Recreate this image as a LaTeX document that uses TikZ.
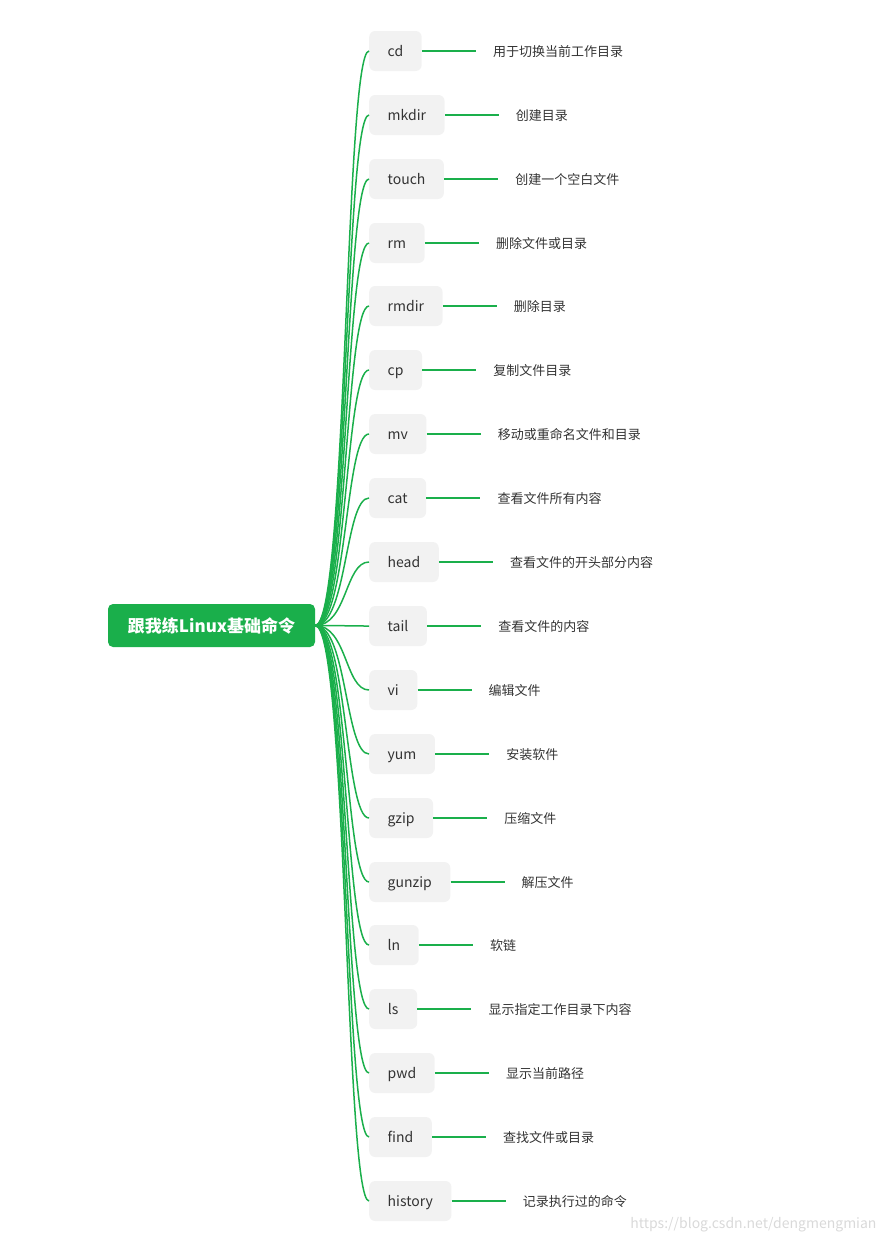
\documentclass[tikz,border=0pt]{standalone}
\usepackage{fontspec}
\setmainfont{Noto Sans CJK SC}
\usepackage{xcolor}
\usepackage{tikz}
\usetikzlibrary{positioning}

\definecolor{mapgreen}{HTML}{1AAF4B}
\definecolor{boxgray}{HTML}{F2F2F2}
\definecolor{inkgray}{HTML}{333333}

\begin{document}
\begin{tikzpicture}[
            x=1pt, y=-1pt,
            root/.style={rectangle, rounded corners=5pt, fill=mapgreen, text=white, font=\fontsize{17}{20}\selectfont\bfseries, minimum width=207pt, minimum height=43pt},
            cmd/.style={rectangle, rounded corners=6pt, fill=boxgray, text=inkgray, anchor=west, font=\fontsize{14}{16}\selectfont, inner xsep=18.5pt, text height=13pt, text depth=1.5pt, minimum width=48pt, minimum height=40pt},
            desc/.style={anchor=west, inner sep=0pt, text=inkgray, text height=12.5pt, text depth=1pt, font=\fontsize{13}{15}\selectfont},
            branch/.style={draw=mapgreen, line width=1.5pt},
            leaf/.style={draw=mapgreen, line width=1.5pt, shorten >=17pt}
        ]

        \useasboundingbox (0,0) rectangle (889,1243);

        \node[root] (linux) at (211.5,625.5) {跟我练Linux基础命令};

        % command boxes
        \node[cmd] (cd) at (369,51) {cd};
        \node[cmd] (mkdir) at (369,115) {mkdir};
        \node[cmd] (touch) at (369,179) {touch};
        \node[cmd] (rm) at (369,243) {rm};
        \node[cmd] (rmdir) at (369,306) {rmdir};
        \node[cmd] (cp) at (369,370) {cp};
        \node[cmd] (mv) at (369,434) {mv};
        \node[cmd] (cat) at (369,498) {cat};
        \node[cmd] (head) at (369,562) {head};
        \node[cmd] (tail) at (369,626) {tail};
        \node[cmd] (vi) at (369,690) {vi};
        \node[cmd] (yum) at (369,754) {yum};
        \node[cmd] (gzip) at (369,818) {gzip};
        \node[cmd] (gunzip) at (369,882) {gunzip};
        \node[cmd] (ln) at (369,945) {ln};
        \node[cmd] (ls) at (369,1009) {ls};
        \node[cmd] (pwd) at (369,1073) {pwd};
        \node[cmd] (find) at (369,1137) {find};
        \node[cmd] (history) at (369,1201) {history};

        % descriptions
        \node[desc] (cd-txt) [right=71pt of cd] {用于切换当前工作目录};
        \node[desc] (mkdir-txt) [right=71pt of mkdir] {创建目录};
        \node[desc] (touch-txt) [right=71pt of touch] {创建一个空白文件};
        \node[desc] (rm-txt) [right=71pt of rm] {删除文件或目录};
        \node[desc] (rmdir-txt) [right=71pt of rmdir] {删除目录};
        \node[desc] (cp-txt) [right=71pt of cp] {复制文件目录};
        \node[desc] (mv-txt) [right=71pt of mv] {移动或重命名文件和目录};
        \node[desc] (cat-txt) [right=71pt of cat] {查看文件所有内容};
        \node[desc] (head-txt) [right=71pt of head] {查看文件的开头部分内容};
        \node[desc] (tail-txt) [right=71pt of tail] {查看文件的内容};
        \node[desc] (vi-txt) [right=71pt of vi] {编辑文件};
        \node[desc] (yum-txt) [right=71pt of yum] {安装软件};
        \node[desc] (gzip-txt) [right=71pt of gzip] {压缩文件};
        \node[desc] (gunzip-txt) [right=71pt of gunzip] {解压文件};
        \node[desc] (ln-txt) [right=71pt of ln] {软链};
        \node[desc] (ls-txt) [right=71pt of ls] {显示指定工作目录下内容};
        \node[desc] (pwd-txt) [right=71pt of pwd] {显示当前路径};
        \node[desc] (find-txt) [right=71pt of find] {查找文件或目录};
        \node[desc] (history-txt) [right=71pt of history] {记录执行过的命令};

        % branches from the root
        \foreach \c in {cd,mkdir,touch,rm,rmdir,cp,mv,cat,head,tail,vi,yum,gzip,gunzip,ln,ls,pwd,find,history}
            \draw[branch] (linux.east) .. controls +(32,0) and +(-24,0) .. (\c.west);

        % leaves
        \foreach \c in {cd,mkdir,touch,rm,rmdir,cp,mv,cat,head,tail,vi,yum,gzip,gunzip,ln,ls,pwd,find,history}
            \draw[leaf] (\c.east) -- (\c-txt.west);

        \node[anchor=east, text=black!15, font=\fontsize{14}{16}\selectfont] (mark) at (880,1225) {https://blog.csdn.net/dengmengmian};

    \end{tikzpicture}
\end{document}
